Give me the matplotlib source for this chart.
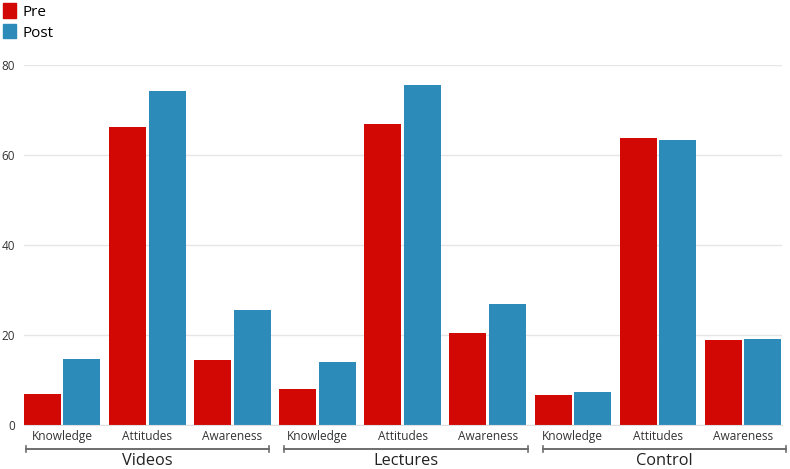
import numpy as np
import matplotlib
matplotlib.use('Agg')
import matplotlib.pyplot as plt
from matplotlib.patches import Patch
from matplotlib.transforms import blended_transform_factory

plt.rcParams['font.family'] = ['Open Sans', 'DejaVu Sans']

groups = ['Videos', 'Lectures', 'Control']
measures = ['Knowledge', 'Attitudes', 'Awareness']
pre = [6.8, 66.2, 14.3,
       8.0, 66.9, 20.3,
       6.6, 63.8, 18.9]
post = [14.5, 74.2, 25.6,
        14.0, 75.7, 26.8,
        7.3, 63.4, 19.0]

red = '#d10804'
blue = '#2d8bba'

fig = plt.figure(figsize=(7.9, 4.69), dpi=100)
ax = fig.add_axes([24 / 790, 44.5 / 469, 758 / 790, 359.2 / 469])

x = np.arange(len(pre))
w = 0.435
ax.bar(x - 0.2315, pre, w, color=red, zorder=3)
ax.bar(x + 0.2315, post, w, color=blue, zorder=3)

ax.set_xlim(-0.45, 8.46)
ax.set_ylim(0, 80)
ax.set_yticks([0, 20, 40, 60, 80])
ax.grid(axis='y', color='#e6e6e6', lw=1, zorder=0)
ax.tick_params(axis='y', length=0, pad=6.5, labelsize=8.5, labelcolor='#333333')
ax.set_xticks(x)
ax.set_xticklabels(measures * len(groups))
ax.tick_params(axis='x', length=0, pad=4, labelsize=8.6, labelcolor='#333333')
for s in ['top', 'right', 'left']:
    ax.spines[s].set_visible(False)
ax.spines['bottom'].set_color('#e0e0e0')
ax.spines['bottom'].set_zorder(4)

# group brackets
tr = blended_transform_factory(ax.transData, fig.transFigure)
yb = (469 - 449) / 469
cap = 3 / 469
for g, name in enumerate(groups):
    x0 = g * 3.04 - 0.43
    x1 = x0 + 2.86
    ax.plot([x0, x1], [yb, yb], color='#6e6e6e', lw=1.4, transform=tr, clip_on=False)
    for xe in (x0, x1):
        ax.plot([xe, xe], [yb - cap, yb + cap], color='#6e6e6e', lw=1.2, transform=tr, clip_on=False)
    ax.text((x0 + x1) / 2, (469 - 460.5) / 469, name, transform=tr, ha='center', va='center',
            fontsize=11.8, color='#222222')

handles = [Patch(color=red, label='Pre'), Patch(color=blue, label='Post')]
fig.legend(handles=handles, loc='upper left', bbox_to_anchor=(-0.013, 1.022), frameon=False,
           fontsize=11, handlelength=0.85, handleheight=1.05, handletextpad=0.4, labelspacing=0.3)

fig.savefig('out.png', dpi=100)
